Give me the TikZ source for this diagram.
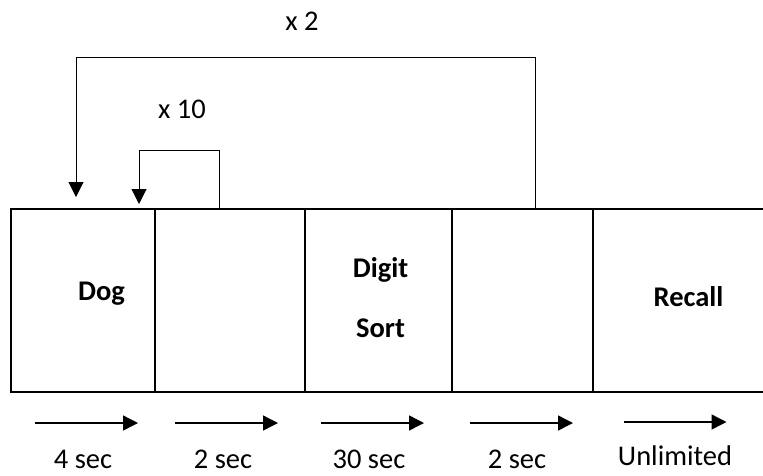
\documentclass[tikz,border=0pt]{standalone}
\usepackage{fontspec}
\setmainfont{Carlito}
\usetikzlibrary{arrows.meta, positioning}

\tikzset{
    stage/.style={draw, line width=2.2pt, minimum height=183pt, inner sep=0pt, outer sep=0pt, anchor=north west},
    stagelbl/.style={font=\fontsize{28.5}{30}\selectfont\bfseries, anchor=base},
    loopline/.style={line width=1pt, -{Triangle[length=15pt,width=15pt]}},
    timeline/.style={line width=1.4pt, -{Triangle[length=15pt,width=15pt]}},
    plain/.style={font=\fontsize{28.5}{30}\selectfont, anchor=base, inner sep=1pt}
}

\begin{document}
\begin{tikzpicture}[x=1pt, y=-1pt]
    \useasboundingbox (0,0) rectangle (763,475);
    \clip (0,0) rectangle (763,475);

    % the five stages of one trial
    \node[stage, minimum width=144pt] (dog) at (11,209) {};
    \node[stage, minimum width=150pt] (isi1) at (dog.north east) {};
    \node[stage, minimum width=147pt] (digit) at (isi1.north east) {};
    \node[stage, minimum width=141pt] (isi2) at (digit.north east) {};
    \node[stage, minimum width=190pt] (recall) at (isi2.north east) {};

    \node[stagelbl] (doglbl) at (101.5,300) {Dog};
    \node[stagelbl] (digitlbl) at (380.5,277) {Digit};
    \node[stagelbl] (sortlbl) at (380.5,337) {Sort};
    \node[stagelbl] (recalllbl) at (688.5,306) {Recall};

    % repetitions
    \coordinate (x2tip) at (76,197);
    \coordinate (x10tip) at (139,204);
    \draw[loopline] ([xshift=13pt]isi2.north) -- ++(0,-152) -| (x2tip);
    \draw[loopline] ([xshift=-11pt]isi1.north) -- ++(0,-59) -| (x10tip);
    \node[plain] (x2) at (302,30) {x 2};
    \node[plain] (x10) at (182,118) {x 10};

    % durations
    \foreach \x/\ax/\ay/\y/\t [count=\i] in {83/86.5/423/468/4 sec, 223/226.5/423/468/2 sec,
            369/372.5/423/468/30 sec, 517/521.5/423/468/2 sec, 675/675/422/465/Unlimited} {
        \node[plain] (dur\i) at (\x,\y) {\t};
        \draw[timeline] (\ax-51.5,\ay) -- (\ax+51.5,\ay);
    }
\end{tikzpicture}
\end{document}
